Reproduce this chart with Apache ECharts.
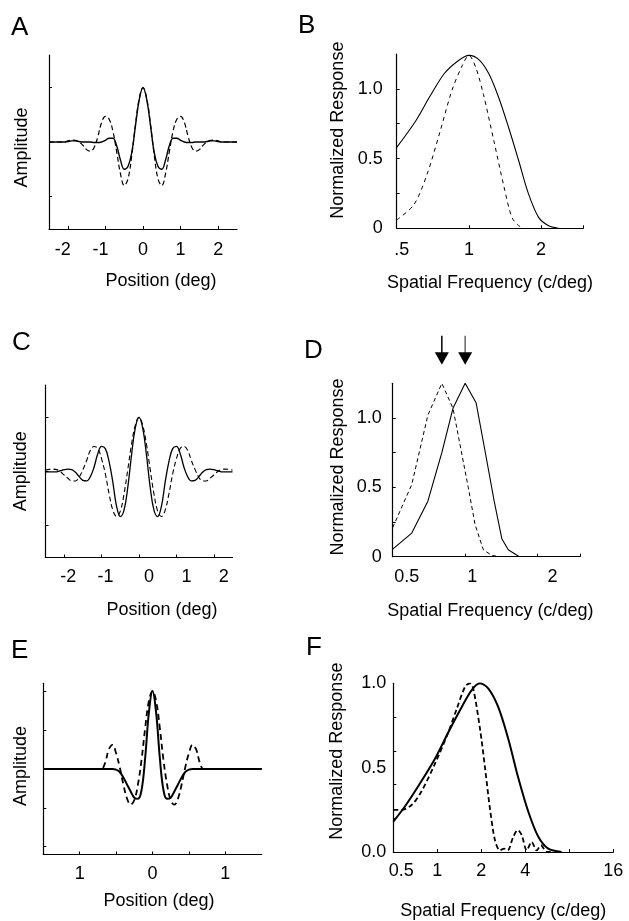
<!DOCTYPE html>
<html><head><meta charset="utf-8">
<script src="https://cdn.jsdelivr.net/npm/echarts@6/dist/echarts.min.js"></script>
<style>html,body{margin:0;padding:0;background:#fff}#c{width:629px;height:921px}</style>
</head><body><div id="c"></div>
<script>
// ---------- Data ----------
// Panel A: receptive-field profiles (position in deg, amplitude)
const posAC = [-2.5,-2.4,-2.3,-2.2,-2.1,-2.0,-1.9,-1.8,-1.7,-1.6,-1.5,-1.4,-1.3,-1.2,-1.1,-1.0,-0.9,-0.8,-0.7,-0.6,-0.5,-0.4,-0.3,-0.2,-0.1,0,0.1,0.2,0.3,0.4,0.5,0.6,0.7,0.8,0.9,1.0,1.1,1.2,1.3,1.4,1.5,1.6,1.7,1.8,1.9,2.0,2.1,2.2,2.3,2.4,2.5];
const ampASolid = [0,0,0,0,0,0.01,0.02,0.02,0.01,0,0,0,-0.01,-0.01,0,0.03,0.07,0.07,-0.07,-0.33,-0.5,-0.45,-0.2,0.3,0.78,1.0,0.78,0.3,-0.2,-0.45,-0.5,-0.33,-0.07,0.07,0.07,0.03,0,-0.01,-0.01,0,0,0,0.01,0.02,0.02,0.01,0,0,0,0,0];
const ampADashed = [0,0,0,0,0,0.02,0.035,0.03,0,-0.06,-0.14,-0.17,-0.1,0.1,0.36,0.47,0.42,0.2,-0.18,-0.58,-0.8,-0.68,-0.25,0.32,0.8,1.0,0.8,0.32,-0.25,-0.68,-0.8,-0.58,-0.18,0.2,0.42,0.47,0.36,0.1,-0.1,-0.17,-0.14,-0.06,0,0.03,0.035,0.02,0,0,0,0,0];
// Panel B: tuning curves (c/deg, normalized response)
const freqBSolid = [0.5,0.6,0.69,0.79,0.9,1.0,1.1,1.21,1.33,1.46,1.61,1.77,1.95,2.14,2.36];
const respBSolid = [0.58,0.77,0.95,1.11,1.2,1.24,1.21,1.11,0.94,0.73,0.49,0.25,0.08,0.02,0];
const freqBDashed = [0.5,0.59,0.67,0.76,0.85,0.94,1.0,1.07,1.15,1.27,1.4,1.51,1.61,1.69];
const respBDashed = [0.06,0.17,0.39,0.7,0.99,1.17,1.24,1.15,0.96,0.63,0.3,0.08,0.02,0];
// Panel C
const ampCSolid = [-0.01,-0.01,-0.01,-0.01,0.01,0.03,0.04,0.03,-0.02,-0.1,-0.17,-0.18,-0.1,0.08,0.33,0.46,0.42,0.18,-0.2,-0.65,-0.84,-0.72,-0.3,0.3,0.8,1.0,0.8,0.3,-0.3,-0.72,-0.84,-0.65,-0.2,0.18,0.42,0.46,0.33,0.08,-0.1,-0.18,-0.17,-0.1,-0.02,0.03,0.04,0.03,0.01,-0.01,-0.01,-0.01,-0.01];
const ampCDashed = [0.02,0.035,0.04,0.03,-0.01,-0.07,-0.13,-0.18,-0.18,-0.11,0.03,0.2,0.39,0.46,0.42,0.23,-0.05,-0.42,-0.72,-0.84,-0.74,-0.42,0.03,0.5,0.85,1.0,0.85,0.5,0.03,-0.42,-0.74,-0.84,-0.72,-0.42,-0.05,0.23,0.42,0.46,0.39,0.2,0.03,-0.11,-0.18,-0.18,-0.13,-0.07,-0.01,0.03,0.04,0.035,0.02];
// Panel D
const freqDSolid = [0.5,0.6,0.7,0.8,0.89,1.0,1.11,1.21,1.32,1.42,1.51,1.68];
const respDSolid = [0.055,0.17,0.4,0.75,1.07,1.25,1.11,0.76,0.4,0.13,0.05,0];
const freqDDashed = [0.5,0.6,0.7,0.8,0.89,1.03,1.1,1.19,1.29,1.38];
const respDDashed = [0.21,0.52,1.02,1.25,1.07,0.5,0.23,0.05,0.01,0];
// Panel E
const posE = [-1.5,-1.0,-0.8,-0.75,-0.7,-0.65,-0.6,-0.55,-0.5,-0.45,-0.4,-0.35,-0.3,-0.25,-0.2,-0.15,-0.1,-0.05,0,0.05,0.1,0.15,0.2,0.25,0.3,0.35,0.4,0.45,0.5,0.55,0.6,0.65,0.7,0.75,0.8,1.0,1.5];
const ampESolid = [0,0,0,0,0,0,0,0,-0.01,-0.04,-0.11,-0.2,-0.29,-0.37,-0.385,-0.27,0.15,0.72,1.0,0.72,0.15,-0.27,-0.385,-0.37,-0.29,-0.2,-0.11,-0.04,-0.01,0,0,0,0,0,0,0,0];
const ampEDashed = [0,0,0,0,0,0.08,0.25,0.31,0.2,0.02,-0.2,-0.38,-0.46,-0.4,-0.2,0.12,0.53,0.87,1.0,0.87,0.53,0.12,-0.2,-0.4,-0.46,-0.38,-0.2,0.02,0.2,0.31,0.25,0.08,0,0,0,0,0];
// Panel F
const freqFSolid = [0.5,0.6,0.74,0.96,1.19,1.47,1.72,1.96,2.23,2.61,3.06,3.58,4.19,4.91,5.74,7.09];
const respFSolid = [0.18,0.27,0.39,0.55,0.71,0.86,0.96,1.0,0.97,0.86,0.67,0.44,0.24,0.09,0.02,0];
const freqFDashed = [0.5,0.57,0.67,0.78,0.96,1.19,1.36,1.55,1.67,1.76,1.96,2.12,2.29,2.48,2.68,2.87,3.03,3.31,3.55,3.78,4.09,4.42,4.78,5.12,5.6,6.1];
const respFDashed = [0.25,0.25,0.28,0.36,0.52,0.71,0.85,0.98,1.0,0.97,0.73,0.5,0.26,0.07,0.01,0.02,0.01,0.09,0.13,0.1,0.01,0.06,0.01,0.04,0,0];
// Tick / label values
const ticksPosAC = [-2,-1,0,1,2];
const ticksAmpAC = [-1,0,1];
const ticksPosE = [-1,-0.5,0,0.5,1];
const labelsPosE = [-1,0,1];
const ticksAmpE = [-1,-0.5,0,0.5,1];
const ticksRespBD = [0.25,0.5,0.75,1.0];
const labelsRespBD = [0,0.5,1.0];
const ticksRespF = [0.2,0.4,0.6,0.8];
const labelsRespF = [0,0.5,1.0];
const panelLetters = ['A','B','C','D','E','F'];

// ---------- Chart ----------
const FONT = '"Liberation Sans", Arial, Helvetica, sans-serif';
const chart = echarts.init(document.getElementById('c'), null, {renderer:'canvas'});
const txt = {color:'#000', fontSize:18, fontFamily:FONT};
function rich() {
  const r = {};
  [0,4,8,10,14,16,20,28,30].forEach(p => { r['r'+p] = Object.assign({padding:[0,0,0,p]}, txt); r['l'+p] = Object.assign({padding:[0,p,0,0]}, txt); });
  return r;
}
const RICH = rich();
function pairs(xs, ys){ return xs.map((x,i)=>[x, ys[i]]); }

function axis(o){
  const a = {
    type: o.type || 'value', gridIndex: o.g, min: o.min, max: o.max,
    axisLine:{show:true, onZero:false, lineStyle:{color:'#000', width:1.2}},
    axisTick:{show:true, inside:true, length:3, lineStyle:{color:'#000', width:1}},
    axisLabel:{show: o.showLabels !== false, margin: o.margin || 8, color:'#000', fontSize:18, fontFamily:FONT, rich:RICH, hideOverlap:false},
    splitLine:{show:false},
    name: o.name || '', nameLocation:'middle', nameGap: o.nameGap || 0,
    nameTextStyle: Object.assign({padding: o.namePad || 0}, txt)
  };
  if (o.logBase) a.logBase = o.logBase;
  if (o.ticks) a.axisTick.customValues = o.ticks;
  if (o.labels) a.axisLabel.customValues = o.labels;
  if (o.fmt) a.axisLabel.formatter = o.fmt;
  if (o.type === 'log') { a.axisLabel.showMinLabel = true; a.axisLabel.showMaxLabel = true; }
  return a;
}
function near(v, t){ return Math.abs(v - t) < 1e-6; }
function fmtLog(map){ return function(v){ for (const k in map) { if (near(v, +k)) return map[k]; } return ''; }; }

const solid = (w) => ({color:'#000', width:w, type:'solid'});
const dashed = (w, d) => ({color:'#000', width:w, type:d});

const option = {
  animation:false,
  backgroundColor:'#fff',
  grid:[
    {left:49, top:55, width:188, height:174},
    {left:396.7, top:54, width:186.6, height:174.3},
    {left:45.5, top:385, width:187, height:172.5},
    {left:392.7, top:383.3, width:187.3, height:173.4},
    {left:43.3, top:683.3, width:218.4, height:171.2},
    {left:393.3, top:683.3, width:220, height:172.5}
  ],
  xAxis:[
    axis({g:0, min:-2.5, max:2.5, ticks:ticksPosAC, labels:ticksPosAC, margin:12,
      fmt: v => v < 0 ? '{l10|' + v + '}' : '{r0|' + v + '}',
      name:'Position (deg)', nameGap:43, namePad:[0,0,0,36]}),
    axis({g:1, type:'log', logBase:2, min:0.5, max:3, margin:13,
      fmt: fmtLog({'0.5':'{r10|.5}', '1':'1', '2':'2'}),
      name:'Spatial Frequency (c/deg)', nameGap:46}),
    axis({g:2, min:-2.5, max:2.5, ticks:ticksPosAC, labels:ticksPosAC, margin:11,
      fmt: v => v < 0 ? '{r8|' + v + '}' : '{r20|' + v + '}',
      name:'Position (deg)', nameGap:44, namePad:[0,0,0,46]}),
    axis({g:3, type:'log', logBase:2, min:0.5, max:3, margin:11,
      fmt: fmtLog({'0.5':'{r28|0.5}', '1':'{r14|1}', '2':'{r30|2}'}),
      name:'Spatial Frequency (c/deg)', nameGap:45, namePad:[0,0,0,8]}),
    axis({g:4, min:-1.5, max:1.5, ticks:ticksPosE, labels:labelsPosE, margin:11,
      fmt: v => String(Math.abs(v)),
      name:'Position (deg)', nameGap:38, namePad:[0,0,0,13]}),
    axis({g:5, type:'log', logBase:2, min:0.5, max:16, margin:10,
      fmt: fmtLog({'0.5':'{r16|0.5}', '1':'1', '2':'2', '4':'4', '16':'16'}),
      name:'Spatial Frequency (c/deg)', nameGap:50})
  ],
  yAxis:[
    axis({g:0, min:-1.6, max:1.6, ticks:ticksAmpAC, showLabels:false, name:'Amplitude', nameGap:18, namePad:[0,11,0,0]}),
    axis({g:1, min:0, max:1.25, ticks:ticksRespBD, labels:labelsRespBD, margin:14,
      fmt: v => v === 0 ? '0' : v.toFixed(1), name:'Normalized Response', nameGap:50, namePad:[0,0,0,22]}),
    axis({g:2, min:-1.6, max:1.6, ticks:ticksAmpAC, showLabels:false, name:'Amplitude', nameGap:15}),
    axis({g:3, min:0, max:1.25, ticks:ticksRespBD, labels:labelsRespBD, margin:11,
      fmt: v => v === 0 ? '0' : v.toFixed(1), name:'Normalized Response', nameGap:46, namePad:[0,0,0,6]}),
    axis({g:4, min:-1.1, max:1.1, ticks:ticksAmpE, showLabels:false, name:'Amplitude', nameGap:13, namePad:[0,0,0,6]}),
    axis({g:5, min:0, max:1.0, ticks:ticksRespF, labels:labelsRespF, margin:7,
      fmt: v => v.toFixed(1), name:'Normalized Response', nameGap:47, namePad:[0,0,0,33]})
  ],
  series:[
    {type:'line', xAxisIndex:0, yAxisIndex:0, data:pairs(posAC, ampADashed), smooth:0.4, showSymbol:false, lineStyle:dashed(1.2,[5,3])},
    {type:'line', xAxisIndex:0, yAxisIndex:0, data:pairs(posAC, ampASolid), smooth:0.4, showSymbol:false, lineStyle:solid(1.4)},
    {type:'line', xAxisIndex:1, yAxisIndex:1, data:pairs(freqBDashed, respBDashed), smooth:0.3, showSymbol:false, lineStyle:dashed(1,[4,4])},
    {type:'line', xAxisIndex:1, yAxisIndex:1, data:pairs(freqBSolid, respBSolid), smooth:0.3, showSymbol:false, lineStyle:solid(1.1)},
    {type:'line', xAxisIndex:2, yAxisIndex:2, data:pairs(posAC, ampCDashed), smooth:0.4, showSymbol:false, lineStyle:dashed(1.1,[5,3])},
    {type:'line', xAxisIndex:2, yAxisIndex:2, data:pairs(posAC, ampCSolid), smooth:0.4, showSymbol:false, lineStyle:solid(1.3)},
    {type:'line', xAxisIndex:3, yAxisIndex:3, data:pairs(freqDDashed, respDDashed), smooth:false, showSymbol:false, lineStyle:dashed(1,[4,3])},
    {type:'line', xAxisIndex:3, yAxisIndex:3, data:pairs(freqDSolid, respDSolid), smooth:false, showSymbol:false, lineStyle:solid(1.1)},
    {type:'line', xAxisIndex:4, yAxisIndex:4, data:pairs(posE, ampEDashed), smooth:0.4, showSymbol:false, lineStyle:dashed(1.8,[6,4])},
    {type:'line', xAxisIndex:4, yAxisIndex:4, data:pairs(posE, ampESolid), smooth:0.4, showSymbol:false, lineStyle:solid(2)},
    {type:'line', xAxisIndex:5, yAxisIndex:5, data:pairs(freqFDashed, respFDashed), smooth:0.3, showSymbol:false, lineStyle:dashed(1.8,[5,3])},
    {type:'line', xAxisIndex:5, yAxisIndex:5, data:pairs(freqFSolid, respFSolid), smooth:0.3, showSymbol:false, lineStyle:solid(2)}
  ]
};
chart.setOption(option);

// Panel letters and peak arrows (arrow x from the data peaks, via the axis scale)
const letterPos = [[11,15],[298,13],[12,330],[304,338],[11,638],[306,635]];
const graphics = panelLetters.map((L,i) => ({
  type:'text', id:'L'+i, x:letterPos[i][0], y:letterPos[i][1],
  style:{text:L, fontSize:26, fontFamily:FONT, fill:'#000', verticalAlign:'top'}
}));
function argmax(a){ let m=0; a.forEach((v,i)=>{ if(v>a[m]) m=i; }); return m; }
const peaks = [freqDDashed[argmax(respDDashed)], freqDSolid[argmax(respDSolid)]];
const lineCols = ['#000','#666'];
peaks.forEach((f,i) => {
  const p = chart.convertToPixel({gridIndex:3}, [f, 1.25]);
  const tip = p[1] - 18.5;
  const base = tip - 12.5;
  graphics.push({type:'line', id:'al'+i, shape:{x1:p[0], y1:base-16.5, x2:p[0], y2:base+1}, style:{stroke:lineCols[i], lineWidth:1.5}});
  graphics.push({type:'polygon', id:'ah'+i, shape:{points:[[p[0]-7,base],[p[0]+7,base],[p[0],tip]]}, style:{fill:'#000'}});
});
chart.setOption({graphic:graphics});
</script></body></html>
